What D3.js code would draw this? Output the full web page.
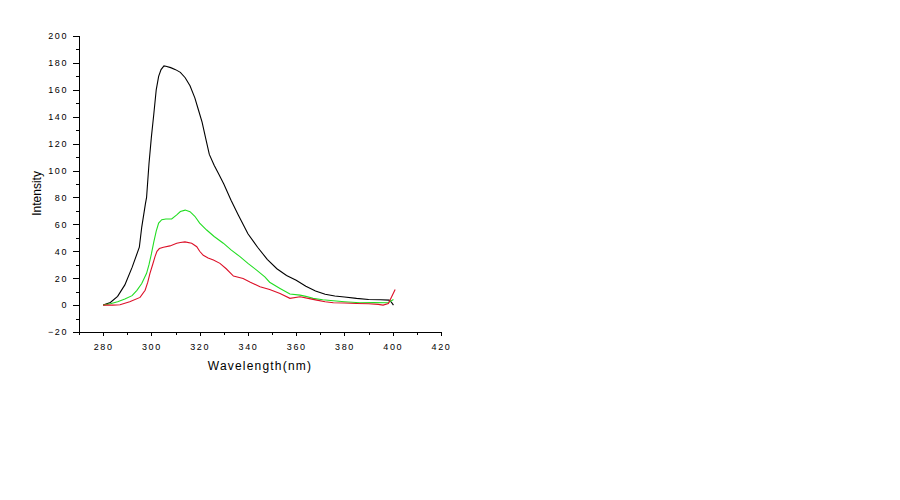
<!DOCTYPE html>
<html>
<head>
<meta charset="utf-8">
<script src="https://cdn.jsdelivr.net/npm/d3@7"></script>
<style>
  body { margin: 0; background: #fff; }
  .axis text { font-family: Arial, "Liberation Sans", sans-serif; font-size: 9px; letter-spacing: 1.6px; fill: #000; }
  .axis path, .axis line { stroke: #000; shape-rendering: crispEdges; }
  .label { font-family: Arial, "Liberation Sans", sans-serif; font-size: 12px; fill: #000; }
</style>
</head>
<body>
<svg class="chart"></svg>
<script>
const margin = {top: 36, right: 459, bottom: 168, left: 79},
      width = 900 - margin.left - margin.right,  //362
      height = 500 - margin.top - margin.bottom; //296

// Emission spectra (wavelength in nm, intensity)
const blackWl = [280, 283, 286, 289, 292, 295, 296, 297.5, 298, 299, 300, 301, 302, 303, 304, 305.2, 306, 308, 310, 312, 314, 316, 318, 319.5, 321, 322.5, 324, 326, 328, 330, 333, 336, 340, 344, 348, 352, 356, 360, 364, 368, 372, 376, 380, 385, 390, 395, 398.5, 399.5, 400.3];
const blackI  = [0, 2, 6.5, 15, 28, 43, 58, 75, 80, 105, 125, 142, 160, 170, 175, 177.8, 177.5, 176.5, 175, 173, 169, 163, 154, 145, 136, 124, 112, 104, 97, 90, 78, 67, 53, 43, 34, 27, 22, 18.5, 14, 10.5, 8, 6.8, 6, 5, 4.2, 4, 3.7, 2, 0];

const greenWl = [280, 283, 286, 289, 292, 294, 296, 298, 299, 300, 301, 302, 303, 304.3, 306, 308.4, 310.5, 312, 314, 316, 318, 320, 322.9, 326, 329.8, 333, 336.7, 340, 343.6, 347, 349, 353.3, 357.4, 361.6, 364, 367, 371, 375.4, 380, 386.4, 392, 398, 400.3];
const greenI  = [0, 1, 2.5, 4.5, 7, 11, 16, 23.6, 30, 38, 47, 55, 61, 63.5, 64, 64, 67, 69.5, 70.6, 69.4, 66, 61, 55.8, 51, 46, 41, 36, 31, 26, 21, 17, 12.4, 8.2, 7.4, 6.5, 5, 4, 3.2, 2.5, 1.7, 1.8, 1.7, 4.2];

const redWl = [280, 284, 287, 291, 295.3, 297.4, 298.5, 299.4, 300.5, 301.5, 302.3, 303.3, 305, 307.7, 310.5, 312, 313.9, 316.7, 318.8, 320, 321.5, 323.5, 325.7, 328.4, 331, 334, 338, 341, 345, 349, 353.3, 357.4, 361.6, 365, 368.5, 372, 375.4, 380, 385, 390, 394, 396, 398.2, 401];
const redI  = [0, 0, 0.3, 2.5, 5.7, 11, 17, 23.6, 30, 36, 40, 42, 43, 44, 46, 46.5, 47, 46, 43.4, 40, 37, 35, 33.5, 31, 27, 21.6, 19.8, 17, 13.6, 11.6, 8.7, 5, 6.2, 5, 3.7, 2.5, 1.7, 1.5, 1.2, 1, 0.5, 0, 1.2, 11.6];

const xTicks = [280, 300, 320, 340, 360, 380, 400, 420];
const yTicks = [-20, 0, 20, 40, 60, 80, 100, 120, 140, 160, 180, 200];

const series = [
  {wl: blackWl, val: blackI, color: "#000000"},
  {wl: greenWl, val: greenI, color: "#22dd22"},
  {wl: redWl, val: redI, color: "#dc1028"}
];

let x = d3.scaleLinear()
          .domain([270, 420])
          .range([0, width]);

let y = d3.scaleLinear()
          .domain([-20, 200])
          .range([height, 0]);

let chart = d3.select(".chart")
              .attr("width", width + margin.left + margin.right)
              .attr("height", height + margin.top + margin.bottom)
              .append("g")
              .attr("transform", "translate(" + margin.left + "," + margin.top + ")");

// minor ticks first, then the labelled ones on top
chart.append("g")
     .attr("class", "axis")
     .attr("transform", "translate(0," + height + ")")
     .call(d3.axisBottom(x).tickValues(d3.range(270, 421, 10)).tickSize(3).tickFormat(""));

chart.append("g")
     .attr("class", "axis")
     .attr("transform", "translate(0," + height + ")")
     .call(d3.axisBottom(x).tickValues(xTicks).tickSize(4).tickPadding(8).tickSizeOuter(0));

chart.append("g")
     .attr("class", "axis")
     .call(d3.axisLeft(y).tickValues(d3.range(-20, 201, 10)).tickSize(3).tickFormat(""));

chart.append("g")
     .attr("class", "axis")
     .call(d3.axisLeft(y).tickValues(yTicks).tickSize(6).tickPadding(5).tickSizeOuter(0));

// Axis titles
chart.append("text")
     .attr("class", "label")
     .attr("x", x(345))
     .attr("y", height + 38)
     .style("text-anchor", "middle")
     .style("letter-spacing", "1.2px")
     .text("Wavelength(nm)");

chart.append("text")
     .attr("class", "label")
     .attr("transform", "rotate(-90)")
     .attr("x", 0 - y(83))
     .attr("y", -38)
     .style("text-anchor", "middle")
     .text("Intensity");

let line = d3.line()
             .x((d) => { return x(d[0]); })
             .y((d) => { return y(d[1]); });

chart.selectAll(".spectrum")
     .data(series)
     .enter().append("path")
     .attr("class", "spectrum")
     .attr("d", (s) => { return line(d3.zip(s.wl, s.val)); })
     .style("fill", "none")
     .style("stroke", (s) => { return s.color; })
     .style("stroke-width", 1.1);
</script>
</body>
</html>
